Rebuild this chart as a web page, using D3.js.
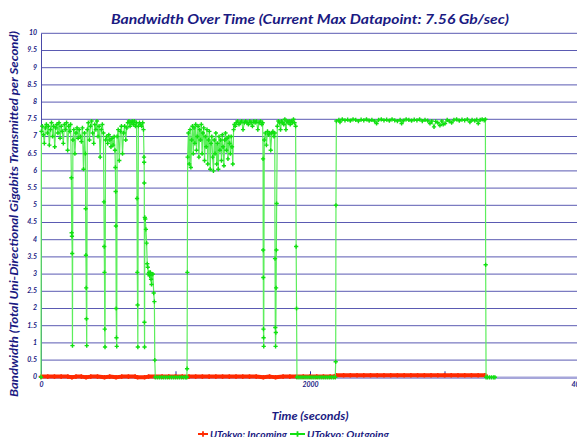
<!DOCTYPE html>
<html>
<head>
<meta charset="utf-8">
<script src="https://cdn.jsdelivr.net/npm/d3@7"></script>
<style>
body { margin: 0; background: #fff; }
svg { display: block; }
</style>
</head>
<body>
<svg></svg>
<script>
// outgoing (green) samples, seconds / Gb per sec
let outTime = [
  0, 3, 10, 18, 25, 32, 40, 48, 55, 62, 70, 78, 86, 94, 102, 110, 118, 126, 134, 142,
  150, 158, 166, 174, 182, 190, 198, 206, 214, 220, 226, 228, 230, 232, 234, 237, 244, 252, 260, 268,
  276, 284, 292, 300, 308, 316, 324, 330, 332, 334, 336, 338, 340, 344, 352, 360, 368, 376, 384, 392,
  400, 408, 416, 424, 432, 440, 448, 456, 464, 468, 470, 472, 474, 476, 480, 488, 496, 504, 512, 520,
  528, 536, 544, 550, 553, 555, 557, 559, 561, 563, 566, 574, 582, 590, 598, 606, 614, 622, 630, 638,
  646, 654, 662, 670, 678, 686, 694, 702, 710, 714, 716, 718, 720, 724, 732, 740, 748, 756, 762, 766,
  767, 768, 769, 770, 772, 775, 780, 785, 790, 794, 798, 803, 808, 813, 818, 822, 826, 832, 838, 843,
  846, 850, 865, 880, 895, 910, 925, 940, 955, 970, 985, 1000, 1015, 1030, 1045, 1060, 1075, 1084,
  1086, 1088, 1090, 1096, 1102, 1108, 1114, 1120, 1126, 1132, 1138, 1144, 1150, 1156, 1162, 1168, 1174, 1180,
  1186, 1192, 1198, 1204, 1210, 1216, 1222, 1228, 1234, 1240, 1246, 1252, 1258, 1264, 1270, 1276, 1282, 1288,
  1294, 1300, 1306, 1312, 1318, 1324, 1330, 1336, 1342, 1348, 1354, 1360, 1366, 1372, 1378, 1384, 1390, 1396,
  1402, 1408, 1414, 1420, 1426, 1432, 1438, 1444, 1452, 1462, 1472, 1482, 1492, 1502, 1512, 1522, 1532, 1542,
  1552, 1562, 1572, 1582, 1592, 1602, 1612, 1622, 1632, 1642, 1648, 1651, 1652, 1653, 1654, 1655, 1656, 1660,
  1668, 1676, 1684, 1692, 1700, 1708, 1716, 1724, 1732, 1738, 1740, 1742, 1744, 1746, 1748, 1750, 1752, 1757,
  1765, 1773, 1781, 1789, 1797, 1805, 1813, 1821, 1829, 1837, 1845, 1853, 1861, 1869, 1877, 1885, 1893, 1897,
  1900, 1903, 1918, 1933, 1948, 1963, 1978, 1993, 2008, 2023, 2038, 2053, 2068, 2083, 2098, 2113, 2128, 2143,
  2158, 2173, 2188, 2191, 2193, 2196, 2215, 2223, 2240, 2260, 2280, 2300, 2320, 2340, 2360, 2380, 2400, 2420,
  2440, 2460, 2480, 2495, 2510, 2530, 2550, 2570, 2590, 2610, 2630, 2650, 2670, 2681, 2695, 2715, 2735, 2755,
  2775, 2795, 2815, 2835, 2855, 2875, 2892, 2905, 2922, 2935, 2950, 2966, 2980, 2990, 3004, 3020, 3035, 3053,
  3070, 3090, 3110, 3130, 3150, 3170, 3189, 3205, 3225, 3240, 3251, 3265, 3280, 3295, 3304, 3306, 3309, 3320,
  3335, 3350, 3365, 3375
]
let outValue = [
  0, 7.15, 7.3, 7.05, 6.8, 7.25, 7.35, 7.1, 7.3, 6.75, 7.2, 7.4, 7.0, 7.3, 6.7, 7.25, 7.35, 7.1, 7.4, 6.95,
  7.3, 7.15, 6.8, 7.35, 7.2, 7.4, 6.6, 7.3, 7.15, 7.35, 5.8, 4.2, 4.1, 3.6, 0.92, 6.9, 7.2, 6.5, 7.1, 7.25,
  6.95, 7.2, 7.0, 6.85, 7.25, 6.05, 7.1, 6.5, 4.9, 3.55, 2.6, 1.7, 0.92, 7.2, 7.4, 6.9, 7.3, 7.45, 7.1, 6.8,
  7.35, 7.2, 7.45, 7.0, 7.3, 6.4, 7.2, 7.35, 7.1, 5.1, 3.8, 3.05, 1.4, 0.88, 6.9, 7.0, 6.8, 7.05, 6.9, 6.7,
  6.95, 6.75, 7.0, 6.6, 6.1, 5.4, 4.4, 2.0, 1.15, 0.9, 7.0, 7.2, 6.3, 7.15, 7.3, 6.5, 7.1, 7.3, 6.9, 7.25,
  7.4, 7.45, 7.3, 7.4, 7.45, 7.35, 7.45, 7.3, 7.4, 5.2, 3.05, 2.1, 0.88, 7.3, 7.4, 7.35, 7.3, 7.4, 7.2, 6.4,
  6.25, 5.65, 1.6, 0.88, 4.65, 4.6, 4.3, 3.9, 3.3, 3.2, 3.0, 3.05, 2.95, 3.05, 2.85, 2.7, 3.0, 3.0, 2.45, 2.2,
  0.5, 0, 0, 0, 0, 0, 0, 0, 0, 0, 0, 0, 0, 0, 0, 0, 0, 0,
  0.25, 3.05, 6.4, 7.1, 6.2, 7.2, 6.1, 6.9, 7.3, 6.5, 7.25, 6.8, 7.35, 6.6, 7.0, 7.3, 6.4, 7.2,
  6.9, 7.35, 6.5, 7.1, 7.25, 6.3, 7.0, 6.7, 7.2, 6.2, 6.9, 7.15, 6.05, 6.8, 7.0, 6.4, 6.0, 6.9,
  6.5, 7.1, 6.2, 6.8, 6.05, 7.0, 6.6, 6.9, 6.3, 7.05, 6.7, 6.15, 6.9, 7.1, 6.6, 6.95, 6.35, 7.0,
  6.8, 6.5, 7.0, 6.7, 6.2, 7.2, 7.35, 7.3, 7.4, 7.45, 7.35, 7.4, 7.45, 7.2, 7.4, 7.45, 7.4, 7.35,
  7.45, 7.4, 7.3, 7.45, 7.4, 7.45, 7.2, 7.4, 7.45, 7.35, 7.4, 6.35, 3.7, 2.9, 1.4, 1.15, 0.9, 6.9,
  7.1, 6.75, 7.15, 7.05, 7.1, 6.6, 7.1, 7.15, 7.0, 7.1, 3.45, 1.45, 0.9, 1.3, 2.6, 3.7, 5.05, 7.3,
  7.45, 7.4, 7.2, 7.45, 7.4, 7.35, 7.5, 7.2, 7.45, 7.4, 7.45, 7.35, 7.45, 7.4, 7.5, 7.4, 7.3, 3.8,
  2.0, 0, 0, 0, 0, 0, 0, 0, 0, 0, 0, 0, 0, 0, 0, 0, 0, 0,
  0, 0, 0, 0.45, 5.0, 7.45, 7.48, 7.42, 7.5, 7.47, 7.49, 7.46, 7.5, 7.48, 7.45, 7.49, 7.47, 7.5,
  7.46, 7.48, 7.45, 7.38, 7.48, 7.5, 7.47, 7.49, 7.46, 7.5, 7.47, 7.45, 7.48, 7.38, 7.46, 7.5, 7.48, 7.46,
  7.49, 7.47, 7.5, 7.45, 7.48, 7.46, 7.38, 7.45, 7.28, 7.44, 7.4, 7.32, 7.45, 7.35, 7.38, 7.48, 7.45, 7.4,
  7.48, 7.5, 7.46, 7.49, 7.47, 7.5, 7.42, 7.48, 7.46, 7.49, 7.38, 7.48, 7.5, 7.47, 7.5, 3.27, 0, 0,
  0, 0, 0, 0
]
// incoming (red) samples
let inTime = [
  0, 50, 100, 150, 200, 230, 260, 300, 335, 370, 420, 472, 510, 558, 600, 650, 700, 718, 770, 800,
  850, 900, 950, 1000, 1050, 1100, 1150, 1200, 1250, 1300, 1350, 1400, 1450, 1500, 1550, 1600, 1653, 1700, 1744, 1800,
  1850, 1900, 1950, 2000, 2050, 2100, 2150, 2180, 2195, 2250, 2300, 2350, 2400, 2450, 2500, 2550, 2600, 2650, 2700, 2750,
  2800, 2850, 2900, 2950, 3000, 3050, 3100, 3150, 3200, 3250, 3300, 3306
]
let inValue = [
  0.02, 0.02, 0.02, 0.02, 0.02, 0, 0.02, 0.02, 0, 0.02, 0.02, 0, 0.02, 0, 0.02, 0.02, 0.02, 0, 0, 0.02,
  0.02, 0.02, 0.02, 0.02, 0.02, 0.02, 0.02, 0.02, 0.02, 0.02, 0.02, 0.02, 0.02, 0.02, 0.02, 0.02, 0, 0.02, 0, 0.02,
  0.02, 0.02, 0.02, 0.02, 0.02, 0.02, 0.02, 0.02, 0.06, 0.06, 0.06, 0.06, 0.06, 0.06, 0.06, 0.06, 0.06, 0.06, 0.06, 0.06,
  0.06, 0.06, 0.06, 0.06, 0.06, 0.06, 0.06, 0.06, 0.06, 0.06, 0.06, 0.06
]

let yTicks = [0, 0.5, 1, 1.5, 2, 2.5, 3, 3.5, 4, 4.5, 5, 5.5, 6, 6.5, 7, 7.5, 8, 8.5, 9, 9.5, 10]
let xTicks = [0, 1000, 2000, 3000, 4000]
let xTickLabels = ['0', '', '2000', '', '4000']
let seriesNames = ['UTokyo: Incoming', 'UTokyo: Outgoing']
let titleText = 'Bandwidth Over Time (Current Max Datapoint: 7.56 Gb/sec)'
let xTitle = 'Time (seconds)'
let yTitle = 'Bandwidth (Total Uni-Directional Gigabits Transmitted per Second)'

let width = 577
let height = 437
let navy = '#1a1a82'
let red = '#ff2a00'
let green = '#11e011'
let font = 'Lato, "DejaVu Sans", sans-serif'

let xScale
let yScale

let svg = d3.select('svg')

let drawCanvas = () => {
    svg.attr('width', width)
    svg.attr('height', height)
}

let genScales = () => {
    xScale = d3.scaleLinear()
                .domain([0, 4000])
                .range([41, 579])
    yScale = d3.scaleLinear()
                .domain([0, 10])
                .range([377.3, 33.3])
}

let drawGrid = () => {
    svg.append('g')
        .selectAll('line')
        .data(yTicks.filter(d => d > 0))
        .enter()
        .append('line')
        .attr('x1', xScale(0))
        .attr('x2', xScale(4000))
        .attr('y1', d => yScale(d))
        .attr('y2', d => yScale(d))
        .attr('stroke', '#5a5ab2')
        .attr('stroke-width', 1)
}

let genAxes = () => {
    let yAxis = d3.axisLeft(yScale)
                    .tickValues(yTicks)
                    .tickSize(0)
                    .tickPadding(4)
                    .tickFormat(d => String(d))
    let yg = svg.append('g')
        .attr('transform', 'translate(' + xScale(0) + ', 0)')
        .call(yAxis)
    yg.select('.domain').attr('stroke', '#4a4aa8')
    yg.selectAll('text')
        .attr('dy', '0.2em')
        .style('font', 'italic bold 7px ' + font)
        .attr('fill', navy)

    let xAxis = d3.axisBottom(xScale)
                    .tickValues(xTicks)
                    .tickSizeInner(-6)
                    .tickSizeOuter(0)
                    .tickPadding(5)
                    .tickFormat((d, i) => xTickLabels[i])
    let xg = svg.append('g')
        .attr('transform', 'translate(0, ' + yScale(0) + ')')
        .call(xAxis)
    xg.select('.domain').attr('stroke', '#a6a6da').attr('stroke-width', 2.5)
    xg.selectAll('line').attr('stroke', '#2a2aa0')
    xg.selectAll('text')
        .style('font', 'italic bold 7px ' + font)
        .attr('fill', navy)
}

let drawSeries = (times, values, color, lineWidth, lineColor, markSize) => {
    let pts = times.map((t, i) => [t, values[i]])
    let line = d3.line()
                .x(d => xScale(d[0]))
                .y(d => yScale(d[1]))
    svg.append('path')
        .datum(pts)
        .attr('d', line)
        .attr('fill', 'none')
        .attr('stroke', lineColor)
        .attr('stroke-width', lineWidth)
        .attr('stroke-linejoin', 'round')
    svg.append('g')
        .selectAll('path')
        .data(pts)
        .enter()
        .append('path')
        .attr('d', d3.symbol().type(d3.symbolCross).size(markSize))
        .attr('transform', d => 'translate(' + xScale(d[0]) + ',' + yScale(d[1]) + ')')
        .attr('fill', color)
}

let genTitles = () => {
    svg.append('text')
        .attr('x', 310)
        .attr('y', 24)
        .attr('text-anchor', 'middle')
        .attr('textLength', 398)
        .attr('lengthAdjust', 'spacingAndGlyphs')
        .style('font', 'italic bold 13px ' + font)
        .attr('fill', navy)
        .text(titleText)

    svg.append('text')
        .attr('x', 310)
        .attr('y', 420)
        .attr('text-anchor', 'middle')
        .attr('textLength', 77)
        .attr('lengthAdjust', 'spacingAndGlyphs')
        .style('font', 'italic bold 11px ' + font)
        .attr('fill', navy)
        .text(xTitle)

    svg.append('text')
        .attr('transform', 'translate(18, 214) rotate(-90)')
        .attr('text-anchor', 'middle')
        .attr('textLength', 366)
        .attr('lengthAdjust', 'spacingAndGlyphs')
        .style('font', 'italic bold 11px ' + font)
        .attr('fill', navy)
        .text(yTitle)
}

let genLegend = () => {
    let items = [
        { name: seriesNames[0], color: red, x1: 198, x2: 208, tx: 210, tw: 77 },
        { name: seriesNames[1], color: green, x1: 290, x2: 305, tx: 307, tw: 82 }
    ]
    let g = svg.append('g')
    items.forEach(it => {
        g.append('line')
            .attr('x1', it.x1).attr('x2', it.x2)
            .attr('y1', 434).attr('y2', 434)
            .attr('stroke', it.color)
            .attr('stroke-width', 2)
        g.append('path')
            .attr('d', d3.symbol().type(d3.symbolCross).size(16))
            .attr('transform', 'translate(' + ((it.x1 + it.x2) / 2) + ',434)')
            .attr('fill', it.color)
        g.append('text')
            .attr('x', it.tx)
            .attr('y', 438)
            .attr('textLength', it.tw)
            .attr('lengthAdjust', 'spacingAndGlyphs')
            .style('font', 'italic bold 10px ' + font)
            .attr('fill', navy)
            .text(it.name)
    })
}

drawCanvas()
genScales()
drawGrid()
genAxes()
drawSeries(inTime, inValue, red, 4, red, 12)
drawSeries(outTime, outValue, green, 1.2, '#5cee5c', 10)
genTitles()
genLegend()
</script>
</body>
</html>
